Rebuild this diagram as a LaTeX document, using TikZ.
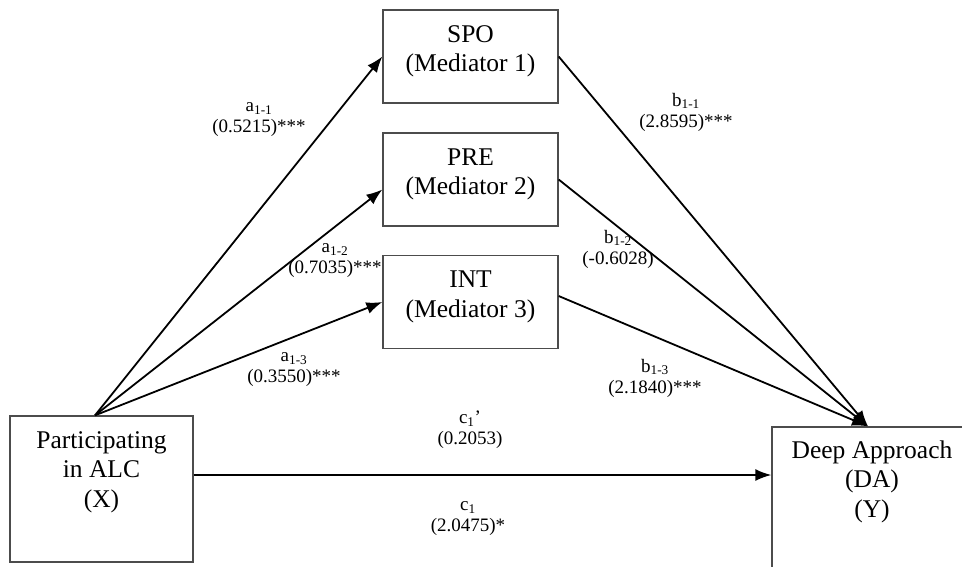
\documentclass[tikz,border=0pt]{standalone}
\usepackage{fontspec}
\setmainfont{Liberation Serif}
\usetikzlibrary{positioning,arrows.meta}

\tikzset{
  varbox/.style={draw=black!70, line width=1.3pt, rectangle, inner sep=0pt},
  boxtext/.style={inner sep=0pt, align=center, font=\fontsize{25.5}{29.5}\selectfont},
  coef/.style={inner sep=0pt, align=center, font=\fontsize{19}{21}\selectfont},
  effect/.style={line width=1.8pt, ->}
}

\begin{document}
\begin{tikzpicture}[x=1pt,y=-1pt,>={Latex[length=16pt,width=12pt]}]
        \useasboundingbox (0,0) rectangle (962,566);
        \clip (0,0) rectangle (962,566);
        \path
        % predictor
        (101.5,489) node[varbox, minimum width=183pt, minimum height=146pt] (X) {}
        % mediators
        (470.5,56.5) node[varbox, minimum width=175pt, minimum height=93pt] (SPO) {}
        (470.5,179.5) node[varbox, minimum width=175pt, minimum height=93pt] (PRE) {}
        (470.5,302) node[varbox, minimum width=175pt, minimum height=93pt] (INT) {}
        % outcome
        (872,502) node[varbox, minimum width=200pt, minimum height=150pt] (DA) {};

        \node[boxtext, below=16pt of X.north] (Xtext) {Participating\\in ALC\\(X)};
        \node[boxtext, below=16pt of SPO.north] (SPOtext) {SPO\\(Mediator 1)};
        \node[boxtext, below=16pt of PRE.north] (PREtext) {PRE\\(Mediator 2)};
        \node[boxtext, below=16pt of INT.north] (INTtext) {INT\\(Mediator 3)};
        \node[boxtext, below=14pt of DA.north] (DAtext) {Deep Approach\\(DA)\\(Y)};

        % a paths
        \draw[effect] ([xshift=-6.5pt]X.north) -- (SPO.west);
        \draw[effect] ([xshift=-6.5pt]X.north) -- ([yshift=-10pt]PRE.west);
        \draw[effect] ([xshift=-6.5pt]X.north) -- (INT.west);
        % b paths
        \draw[effect] (SPO.east) -- ([xshift=-4pt]DA.north);
        \draw[effect] (PRE.east) -- ([xshift=-4pt]DA.north);
        \draw[effect] ([yshift=6pt]INT.east) -- ([xshift=-4pt]DA.north);
        % c path
        \draw[effect] ([yshift=14pt]X.east) -- ([yshift=14pt]X.east -| DA.west);

        \path
        (259,120) node[coef] (a11) {a\textsubscript{1-1}\\(0.5215)***}
        (335,261) node[coef] (a12) {a\textsubscript{1-2}\\(0.7035)***}
        (294,370) node[coef] (a13) {a\textsubscript{1-3}\\(0.3550)***}
        (686,112) node[coef] (b11) {b\textsubscript{1-1}\\(2.8595)***}
        (618,249) node[coef] (b12) {b\textsubscript{1-2}\\(-0.6028)}
        (655,378) node[coef] (b13) {b\textsubscript{1-3}\\(2.1840)***}
        (470,430) node[coef] (c1p) {c\textsubscript{1}{\char"27}\\(0.2053)}
        (468,519) node[coef] (c1) {c\textsubscript{1}\\(2.0475)*};
\end{tikzpicture}
\end{document}
